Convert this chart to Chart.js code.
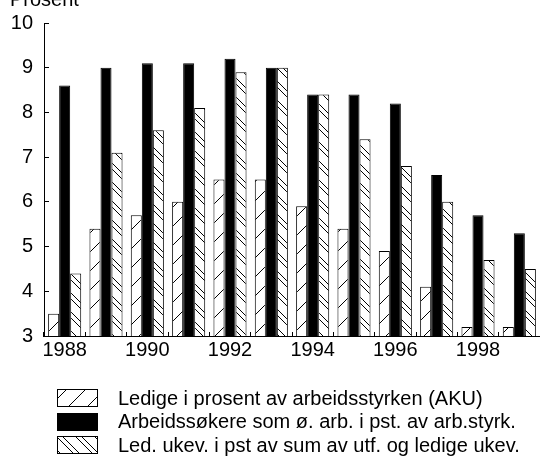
<!DOCTYPE html>
<html>
<head>
<meta charset="utf-8">
<script src="https://cdn.jsdelivr.net/npm/chart.js@4"></script>
<style>
  html, body { margin: 0; padding: 0; background: #fff; }
  #wrap { width: 540px; height: 459px; position: relative; }
</style>
</head>
<body>
<div id="wrap"><canvas id="c" width="540" height="459"></canvas></div>
<script>
const years = ['1988','1989','1990','1991','1992','1993','1994','1995','1996','1997','1998','1999'];
const shownYearLabels = ['1988','1990','1992','1994','1996','1998'];
const seriesNames = [
  'Ledige i prosent av arbeidsstyrken (AKU)',
  'Arbeidssøkere som ø. arb. i pst. av arb.styrk.',
  'Led. ukev. i pst av sum av utf. og ledige ukev.'
];
const ledigeAKU = [3.5, 5.4, 5.7, 6.0, 6.5, 6.5, 5.9, 5.4, 4.9, 4.1, 3.2, 3.2];
const arbeidssokere = [8.6, 9.0, 9.1, 9.1, 9.2, 9.0, 8.4, 8.4, 8.2, 6.6, 5.7, 5.3];
const ledUkev = [4.4, 7.1, 7.6, 8.1, 8.9, 9.0, 8.4, 7.4, 6.8, 6.0, 4.7, 4.5];
const yTicks = [3, 4, 5, 6, 7, 8, 9, 10];
const axisTitle = 'Prosent';

const FONT = 'Liberation Sans, Arial, Helvetica, sans-serif';
const FS = 20;

const ctx = document.getElementById('c').getContext('2d');

function makePattern(kind) {
  const s = 19;
  const c = document.createElement('canvas');
  c.width = s; c.height = s;
  const g = c.getContext('2d');
  g.fillStyle = '#fff';
  g.fillRect(0, 0, s, s);
  g.strokeStyle = '#000';
  g.lineWidth = 1;
  g.beginPath();
  const offs = kind === 'fwd' ? [0] : [0, 6];
  for (const o of offs) {
    for (const k of [-s, 0, s]) {
      if (kind === 'fwd') {
        g.moveTo(k + o, s);
        g.lineTo(k + o + s, 0);
      } else {
        g.moveTo(k + o, 0);
        g.lineTo(k + o + s, s);
      }
    }
  }
  g.stroke();
  return ctx.createPattern(c, 'repeat');
}

const patFwd = makePattern('fwd');
const patBack = makePattern('back');

const legendPlugin = {
  id: 'customLegend',
  afterDraw(chart) {
    const c = chart.ctx;
    const ds = chart.data.datasets;
    c.save();
    c.font = FS + 'px ' + FONT;
    c.fillStyle = '#000';
    c.textAlign = 'left';
    c.textBaseline = 'alphabetic';
    // axis unit title
    c.fillText(axisTitle, 10, 6);
    c.textBaseline = 'middle';
    ds.forEach((d, i) => {
      const cy = 398 + i * 23.5;
      const bx = 57, bw = 41, bh = 18;
      const by = Math.round(cy - bh / 2);
      c.fillStyle = d.backgroundColor;
      c.fillRect(bx, by, bw, bh);
      c.strokeStyle = '#000';
      c.lineWidth = 1;
      c.strokeRect(bx + 0.5, by + 0.5, bw - 1, bh - 1);
      c.fillStyle = '#000';
      c.fillText(d.label, 118, cy + 1);
    });
    c.restore();
  }
};

new Chart(ctx, {
  type: 'bar',
  data: {
    labels: years,
    datasets: [
      { label: seriesNames[0], data: ledigeAKU, backgroundColor: patFwd, borderColor: '#000', borderWidth: 1 },
      { label: seriesNames[1], data: arbeidssokere, backgroundColor: '#000', borderColor: '#000', borderWidth: 1 },
      { label: seriesNames[2], data: ledUkev, backgroundColor: patBack, borderColor: '#000', borderWidth: 1 }
    ]
  },
  options: {
    responsive: false,
    animation: false,
    datasets: { bar: { categoryPercentage: 0.8, barPercentage: 1.0 } },
    layout: { padding: { left: 0, right: 0, top: 23, bottom: 93 } },
    plugins: {
      legend: { display: false },
      tooltip: { enabled: false },
      title: { display: false }
    },
    scales: {
      x: {
        afterFit: function(scale) { scale.height = 30; scale.paddingLeft = 0; scale.paddingRight = 0; },
        grid: { display: true, drawOnChartArea: false, drawTicks: true, tickLength: -4, color: '#000', offset: true },
        border: { display: true, color: '#000', width: 1 },
        ticks: {
          color: '#000',
          font: { family: FONT, size: FS },
          padding: 6,
          maxRotation: 0,
          autoSkip: false,
          callback: function(v, i) {
            const lab = years[i];
            return shownYearLabels.includes(lab) ? lab : '';
          }
        }
      },
      y: {
        min: yTicks[0],
        max: yTicks[yTicks.length - 1],
        afterFit: function(scale) { scale.width = 44; scale.paddingTop = 0; scale.paddingBottom = 0; },
        grid: { display: true, drawOnChartArea: false, drawTicks: true, tickLength: -5, color: '#000' },
        border: { display: true, color: '#000', width: 1 },
        afterBuildTicks: function(scale) { scale.ticks = yTicks.map(v => ({ value: v })); },
        ticks: {
          color: '#000',
          font: { family: FONT, size: FS },
          padding: 16
        }
      }
    }
  },
  plugins: [legendPlugin]
});
</script>
</body>
</html>
